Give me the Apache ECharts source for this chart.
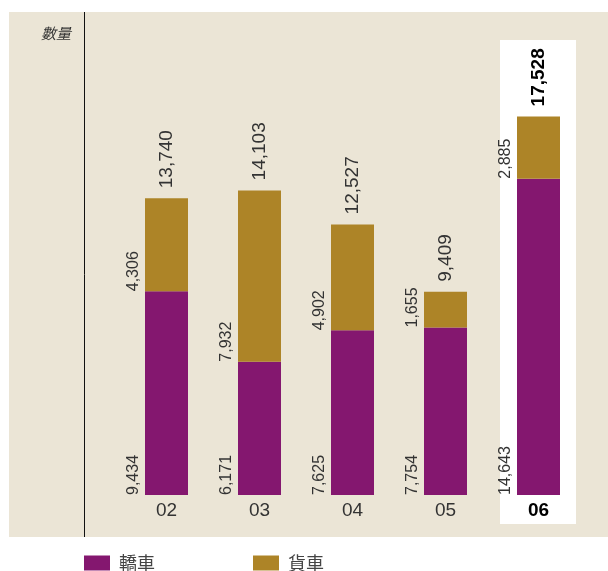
<!DOCTYPE html>
<html>
<head>
<meta charset="utf-8">
<script src="https://cdn.jsdelivr.net/npm/echarts@6/dist/echarts.min.js"></script>
<style>
  html, body { margin: 0; padding: 0; background: #fff; }
  #chart { width: 608px; height: 571px; }
</style>
</head>
<body>
<div id="chart"></div>
<script>
const years = ["02", "03", "04", "05", "06"];
const cars = [9434, 6171, 7625, 7754, 14643];
const trucks = [4306, 7932, 4902, 1655, 2885];
const totals = [13740, 14103, 12527, 9409, 17528];

const purple = "#84176f";
const gold = "#ad8427";
const fmt = v => Number(v).toLocaleString("en-US");

function segLabel() {
  return {
    show: true,
    rotate: 90,
    position: [-2, "100%"],
    align: "left",
    verticalAlign: "bottom",
    offset: [0, -1],
    fontFamily: "Liberation Sans",
    fontSize: 16,
    color: "#333",
    formatter: p => fmt(p.value)
  };
}

const chart = echarts.init(document.getElementById("chart"));
chart.setOption({
  backgroundColor: "#fff",
  animation: false,
  graphic: [
    { type: "rect", z: -10, silent: true, shape: { x: 9, y: 12, width: 599, height: 525 }, style: { fill: "#ebe5d6" } },
    { type: "rect", z: -9, silent: true, shape: { x: 500, y: 40, width: 76, height: 484 }, style: { fill: "#fff" } },
    { type: "line", z: -8, silent: true, shape: { x1: 84.5, y1: 12, x2: 84.5, y2: 537 }, style: { stroke: "#111", lineWidth: 1 } },
    { type: "text", z: 5, silent: true, x: 71, y: 33,
      style: { text: "數量", align: "right", verticalAlign: "middle", fontSize: 15, fontStyle: "italic",
               fontFamily: "Noto Sans CJK TC", fill: "#333" } }
  ],
  grid: { left: 120, right: 23, top: 63, bottom: 76 },
  legend: {
    left: 84, top: 554, padding: 0,
    itemWidth: 26, itemHeight: 15, itemGap: 98,
    icon: "rect",
    data: ["轎車", "貨車"],
    textStyle: { fontFamily: "Noto Sans CJK TC", fontSize: 18, color: "#444", padding: [0, 0, 0, 4] }
  },
  xAxis: {
    type: "category",
    data: years.map((y, i) => i === 4 ? { value: y, textStyle: { fontWeight: "bold", color: "#000" } } : y),
    axisLine: { show: false },
    axisTick: { show: false },
    axisLabel: { margin: 6, fontSize: 19, fontFamily: "Liberation Sans", color: "#333" }
  },
  yAxis: { type: "value", min: 0, max: 20000, show: false, splitLine: { show: false } },
  series: [
    {
      name: "轎車", type: "bar", stack: "all", barWidth: 43,
      itemStyle: { color: purple },
      label: segLabel(),
      data: cars
    },
    {
      name: "貨車", type: "bar", stack: "all", barWidth: 43,
      itemStyle: { color: gold },
      label: segLabel(),
      data: trucks
    },
    {
      name: "total", type: "bar", barWidth: 43, barGap: "-100%", z: 1, silent: true,
      itemStyle: { color: "rgba(0,0,0,0)" },
      label: {
        show: true, position: "top", distance: 10, rotate: 90,
        align: "left", verticalAlign: "middle",
        fontFamily: "Liberation Sans", fontSize: 19, color: "#333",
        formatter: p => fmt(p.value)
      },
      data: totals.map((v, i) => i === 4
        ? { value: v, label: { fontWeight: "bold", color: "#000" } }
        : v)
    }
  ]
});
</script>
</body>
</html>
